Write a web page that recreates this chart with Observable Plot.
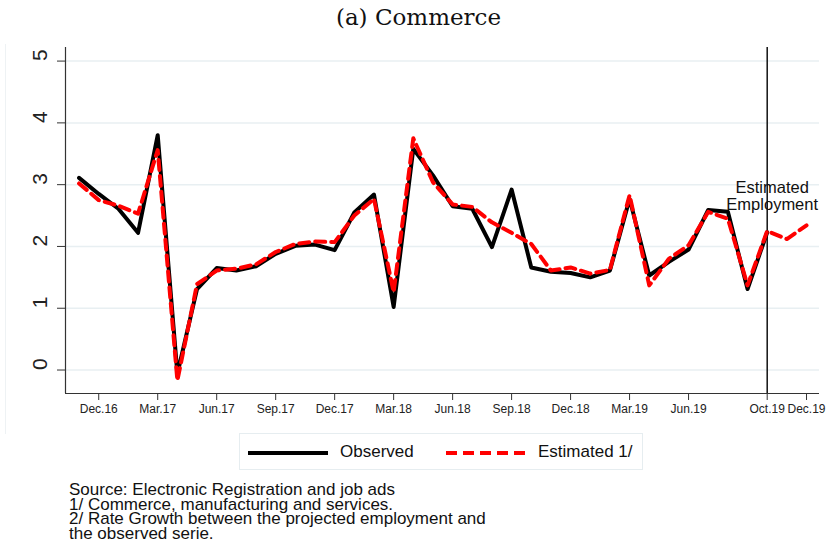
<!DOCTYPE html>
<html>
<head>
<meta charset="utf-8">
<script src="https://cdn.jsdelivr.net/npm/d3@7"></script>
<script src="https://cdn.jsdelivr.net/npm/@observablehq/plot@0.6"></script>
<style>
  body { margin: 0; background: #fff; width: 837px; height: 552px; position: relative; overflow: hidden; font-family: "Liberation Sans", Arial, sans-serif; }
  #title { height: 36px; line-height: 34px; text-align: center; font-family: "DejaVu Serif", serif; font-size: 23px; color: #111; }
  #chart { height: 392px; }
  #legend { position: absolute; left: 239px; top: 433px; width: 404px; height: 37px; border: 1px solid #e6edf0; box-sizing: border-box; font-size: 17px; color: #111; }
  #legend .item { position: absolute; top: 0; height: 37px; line-height: 36px; }
  #legend svg { position: absolute; top: 0; }
  #caption { position: absolute; left: 69px; top: 483px; font-size: 17px; line-height: 14.5px; color: #111; }
  #frameL { position: absolute; left: 5px; top: 44px; width: 1px; height: 390px; background: #eef2f4; }
</style>
</head>
<body>
<div id="frameL"></div>
<div id="title">(a) Commerce</div>
<div id="chart"></div>
<div id="legend"></div>
<div id="caption">Source: Electronic Registration and job ads<br>1/ Commerce, manufacturing and services.<br>2/ Rate Growth between the projected employment and<br>the observed serie.</div>
<script>
const months = [
  "2016-11","2016-12",
  "2017-01","2017-02","2017-03","2017-04","2017-05","2017-06","2017-07","2017-08","2017-09","2017-10","2017-11","2017-12",
  "2018-01","2018-02","2018-03","2018-04","2018-05","2018-06","2018-07","2018-08","2018-09","2018-10","2018-11","2018-12",
  "2019-01","2019-02","2019-03","2019-04","2019-05","2019-06","2019-07","2019-08","2019-09","2019-10","2019-11","2019-12"
];
const observed = [
  3.11, 2.85,
  2.61, 2.22, 3.80, -0.06, 1.31, 1.65, 1.61, 1.68, 1.88, 2.01, 2.03, 1.94,
  2.55, 2.84, 1.02, 3.58, 3.15, 2.65, 2.61, 1.99, 2.92, 1.66, 1.59, 1.57,
  1.50, 1.61, 2.77, 1.53, 1.75, 1.95, 2.59, 2.56, 1.31, 2.23
];
const estimated = [
  3.02, 2.75,
  2.66, 2.53, 3.56, -0.17, 1.39, 1.61, 1.64, 1.71, 1.91, 2.04, 2.08, 2.07,
  2.50, 2.77, 1.26, 3.75, 3.04, 2.68, 2.64, 2.39, 2.22, 2.04, 1.61, 1.66,
  1.56, 1.62, 2.83, 1.37, 1.80, 2.02, 2.56, 2.45, 1.37, 2.25, 2.12, 2.34
];
const tickMonths = ["2016-12","2017-03","2017-06","2017-09","2017-12","2018-03","2018-06","2018-09","2018-12","2019-03","2019-06","2019-10","2019-12"];
const tickLabels = ["Dec.16","Mar.17","Jun.17","Sep.17","Dec.17","Mar.18","Jun.18","Sep.18","Dec.18","Mar.19","Jun.19","Oct.19","Dec.19"];
const yTicks = [0, 1, 2, 3, 4, 5];
const cutMonth = "2019-10";
const annotation = [{month: "2019-10", value: 2.82, text: "Estimated\nEmployment"}];
const xDomain = [-0.69, 37.66];
const yDomain = [-0.38, 5.22];

const idx = m => months.indexOf(m);
const obsData = observed.map((v, i) => ({i, v}));
const estData = estimated.map((v, i) => ({i, v}));
const tickIdx = tickMonths.map(idx);
const labelOf = new Map(tickIdx.map((t, k) => [t, tickLabels[k]]));

const plot = Plot.plot({
  width: 837,
  height: 392,
  marginLeft: 65,
  marginRight: 18,
  marginTop: 11,
  marginBottom: 35,
  style: {fontFamily: "Liberation Sans, Arial, sans-serif", color: "#111", background: "transparent"},
  x: {type: "linear", domain: xDomain, label: null},
  y: {domain: yDomain, label: null},
  marks: [
    Plot.gridY(yTicks, {stroke: "#e8eff2", strokeOpacity: 1, strokeWidth: 1.5}),
    Plot.ruleX([idx(cutMonth)], {stroke: "#111", strokeWidth: 1.5}),
    Plot.ruleY([yDomain[0]], {stroke: "#333", strokeWidth: 1.2}),
    Plot.ruleX([xDomain[0]], {stroke: "#333", strokeWidth: 1.2}),
    Plot.axisY(yTicks, {tickSize: 8, tickFormat: () => "", stroke: "#333", label: null}),
    Plot.text(yTicks, {y: d => d, frameAnchor: "left", text: d => String(d), rotate: -90, dx: -25, fontSize: 21, fill: "#222"}),
    Plot.axisX(tickIdx, {tickSize: 7, tickPadding: 4, fontSize: 12, tickFormat: d => labelOf.get(d), stroke: "#333", fill: "#222", label: null}),
    Plot.line(obsData, {x: "i", y: "v", stroke: "#000", strokeWidth: 4, strokeLinejoin: "round"}),
    Plot.line(estData, {x: "i", y: "v", stroke: "#ff0000", strokeWidth: 4, strokeDasharray: "10,6", strokeLinejoin: "round"}),
    Plot.text(annotation, {x: d => idx(d.month), y: "value", text: "text", dx: 5, fontSize: 16.5, lineHeight: 1.05, fill: "#111"})
  ]
});
document.getElementById("chart").appendChild(plot);

// legend
const legend = d3.select("#legend");
const items = [
  {label: "Observed", stroke: "#000", dash: null, lx: 8, tx: 100},
  {label: "Estimated 1/", stroke: "#ff0000", dash: "11,6", lx: 206, tx: 298}
];
items.forEach(it => {
  const s = legend.append("svg").attr("width", 82).attr("height", 36).style("left", it.lx + "px");
  s.append("line").attr("x1", 0).attr("x2", 80).attr("y1", 19).attr("y2", 19)
    .attr("stroke", it.stroke).attr("stroke-width", 4).attr("stroke-dasharray", it.dash);
  legend.append("div").attr("class", "item").style("left", it.tx + "px").text(it.label);
});
</script>
</body>
</html>
